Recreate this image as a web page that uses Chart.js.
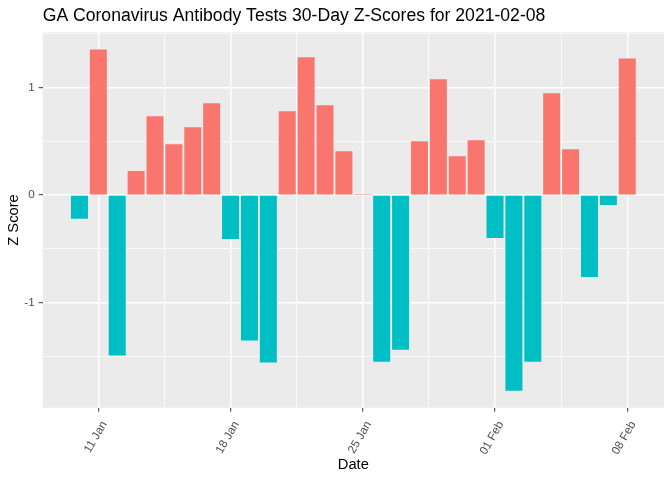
<!DOCTYPE html>
<html>
<head>
<meta charset="utf-8">
<script src="https://cdn.jsdelivr.net/npm/chart.js@4"></script>
<style>
  html, body { margin: 0; padding: 0; background: #fff; }
  #wrap { width: 672px; height: 480px; }
</style>
</head>
<body>
<div id="wrap"><canvas id="chart" width="672" height="480"></canvas></div>
<script>
// Datos
const dates = [
  '2021-01-10', '2021-01-11', '2021-01-12', '2021-01-13', '2021-01-14',
  '2021-01-15', '2021-01-16', '2021-01-17', '2021-01-18', '2021-01-19',
  '2021-01-20', '2021-01-21', '2021-01-22', '2021-01-23', '2021-01-24',
  '2021-01-25', '2021-01-26', '2021-01-27', '2021-01-28', '2021-01-29',
  '2021-01-30', '2021-01-31', '2021-02-01', '2021-02-02', '2021-02-03',
  '2021-02-04', '2021-02-05', '2021-02-06', '2021-02-07', '2021-02-08'
];
const zScores = [
  -0.22, 1.356, -1.492, 0.223, 0.734,
  0.474, 0.632, 0.854, -0.409, -1.353,
  -1.557, 0.780, 1.282, 0.836, 0.409,
  0.009, -1.551, -1.440, 0.502, 1.077,
  0.362, 0.511, -0.399, -1.820, -1.551,
  0.947, 0.427, -0.762, -0.093, 1.272
];
const tickDates = ['2021-01-11', '2021-01-18', '2021-01-25', '2021-02-01', '2021-02-08'];
const tickLabels = ['11 Jan', '18 Jan', '25 Jan', '01 Feb', '08 Feb'];
const yMajor = [-1, 0, 1];
const yMinor = [-1.5, -0.5, 0.5, 1.5];

const fontFamily = '"Liberation Sans", Arial, sans-serif';
const dayMs = 86400000;
const t0 = Date.parse(dates[0]);
function dayIndex(d) { return (Date.parse(d) - t0) / dayMs; }

const xMajor = tickDates.map(dayIndex);
const xMinor = [];
for (let i = 0; i < xMajor.length - 1; i++) xMinor.push((xMajor[i] + xMajor[i + 1]) / 2);

// expansión estilo ggplot (5%)
const xLo = -0.45, xHi = dates.length - 1 + 0.45;
const xPad = (xHi - xLo) * 0.05;
const yLo = Math.min(0, ...zScores), yHi = Math.max(0, ...zScores);
const yPad = (yHi - yLo) * 0.05;

const panelBg = {
  id: 'panelBg',
  beforeDraw(chart) {
    const { ctx, chartArea: a } = chart;
    ctx.save();
    ctx.fillStyle = '#EBEBEB';
    ctx.fillRect(a.left, a.top, a.right - a.left, a.bottom - a.top);
    ctx.restore();
  }
};

function isMajor(list, v) { return list.some(m => Math.abs(m - v) < 1e-9); }

new Chart(document.getElementById('chart'), {
  type: 'bar',
  data: {
    datasets: [{
      data: dates.map((d, i) => ({ x: dayIndex(d), y: zScores[i] })),
      backgroundColor: ctx => (ctx.raw && ctx.raw.y >= 0) ? '#F8766D' : '#00BFC4',
      borderWidth: 0,
      barPercentage: 0.9,
      categoryPercentage: 1.0
    }]
  },
  options: {
    responsive: false,
    animation: false,
    layout: { padding: { left: 0, right: 8, top: 0, bottom: 0 }, autoPadding: false },
    plugins: {
      legend: { display: false },
      tooltip: { enabled: false },
      title: {
        display: true,
        text: 'GA Coronavirus Antibody Tests 30-Day Z-Scores for 2021-02-08',
        align: 'start',
        fullSize: false,
        color: '#000',
        font: { family: fontFamily, size: 17.6, weight: 'normal', lineHeight: 1.2 },
        padding: { top: 5.4, bottom: 5.8 }
      }
    },
    scales: {
      x: {
        type: 'linear',
        offset: false,
        min: xLo - xPad,
        max: xHi + xPad,
        afterBuildTicks: s => {
          s.ticks = [...xMajor, ...xMinor].sort((a, b) => a - b).map(v => ({ value: v }));
        },
        afterFit: s => { s.height = 72.3; },
        border: { display: false },
        grid: {
          offset: false,
          color: '#FFFFFF',
          lineWidth: c => isMajor(xMajor, c.tick.value) ? 1.4 : 0.7,
          tickColor: c => isMajor(xMajor, c.tick.value) ? '#333333' : 'rgba(0,0,0,0)',
          tickLength: 4,
          tickWidth: 1
        },
        ticks: {
          autoSkip: false,
          minRotation: 60,
          maxRotation: 60,
          padding: 7,
          labelOffset: 6,
          color: '#4D4D4D',
          font: { family: fontFamily, size: 11.7 },
          callback: v => {
            const k = xMajor.findIndex(m => Math.abs(m - v) < 1e-9);
            return k >= 0 ? tickLabels[k] : '';
          }
        },
        title: {
          display: true,
          text: 'Date',
          color: '#000',
          font: { family: fontFamily, size: 14.7 },
          padding: { top: 0, bottom: 6 }
        }
      },
      y: {
        min: yLo - yPad,
        max: yHi + yPad,
        afterBuildTicks: s => {
          s.ticks = [...yMajor, ...yMinor].sort((a, b) => a - b).map(v => ({ value: v }));
        },
        afterFit: s => { s.width = 42.7; },
        border: { display: false },
        grid: {
          color: '#FFFFFF',
          lineWidth: c => isMajor(yMajor, c.tick.value) ? 1.4 : 0.7,
          tickColor: c => isMajor(yMajor, c.tick.value) ? '#333333' : 'rgba(0,0,0,0)',
          tickLength: 4,
          tickWidth: 1
        },
        ticks: {
          padding: 4,
          color: '#4D4D4D',
          font: { family: fontFamily, size: 11.7 },
          callback: v => isMajor(yMajor, v) ? String(v) : ''
        },
        title: {
          display: true,
          text: 'Z Score',
          color: '#000',
          font: { family: fontFamily, size: 14.7 },
          padding: { top: 5, bottom: 0 }
        }
      }
    }
  },
  plugins: [panelBg]
});
</script>
</body>
</html>
